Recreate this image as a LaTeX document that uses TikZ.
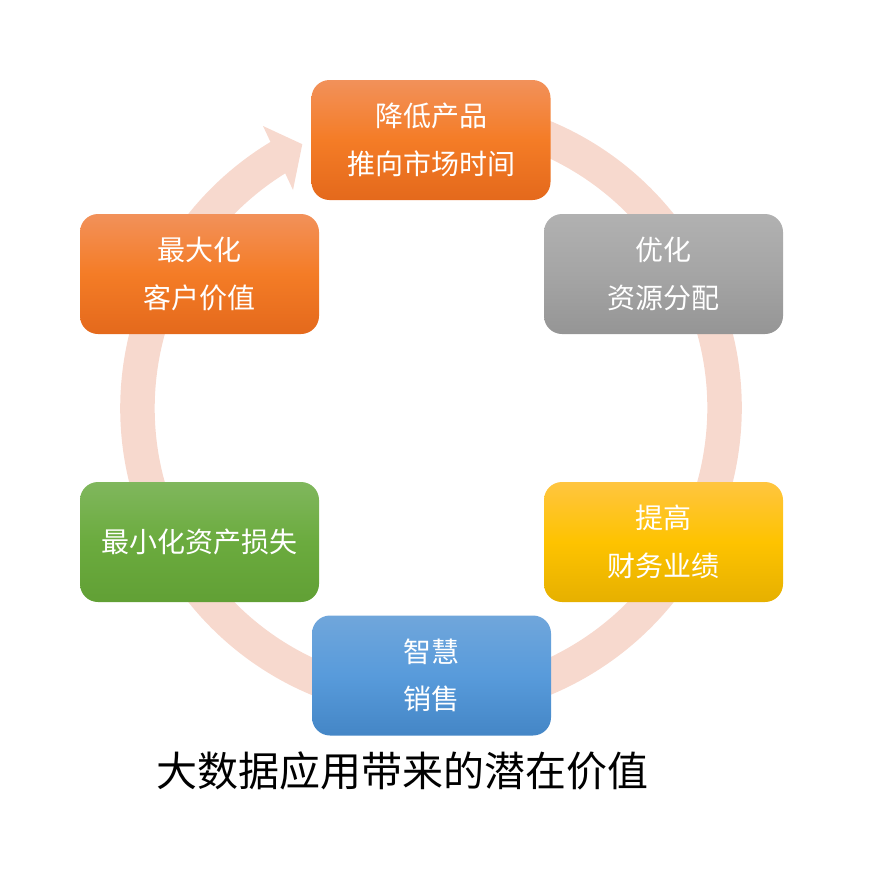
\documentclass[tikz,border=0pt]{standalone}
\usepackage{fontspec}
\setmainfont{Noto Sans CJK SC}
\definecolor{ringc}{HTML}{F7D9CE}
\definecolor{oT}{HTML}{F2915A}
\definecolor{oM}{HTML}{F47C26}
\definecolor{oB}{HTML}{E4691C}
\definecolor{gT}{HTML}{B1B1B1}
\definecolor{gM}{HTML}{A5A5A5}
\definecolor{gB}{HTML}{959595}
\definecolor{yT}{HTML}{FFC540}
\definecolor{yM}{HTML}{FEC300}
\definecolor{yB}{HTML}{E6B000}
\definecolor{bT}{HTML}{70A6DB}
\definecolor{bM}{HTML}{589BDB}
\definecolor{bB}{HTML}{4486C6}
\definecolor{grT}{HTML}{80B75D}
\definecolor{grM}{HTML}{6BAB3E}
\definecolor{grB}{HTML}{61A035}
\begin{document}
\begin{tikzpicture}[x=1pt,y=-1pt,
  box/.style={rounded corners=18pt, minimum width=239pt, minimum height=120pt,
    inner sep=0pt, text=white, align=center, font=\fontsize{28}{47.5}\selectfont},
  orangebox/.style={box, top color=oT, bottom color=oB, middle color=oM},
  greybox/.style={box, top color=gT, bottom color=gB, middle color=gM},
  yellowbox/.style={box, top color=yT, bottom color=yB, middle color=yM},
  bluebox/.style={box, top color=bT, bottom color=bB, middle color=bM},
  greenbox/.style={box, top color=grT, bottom color=grB, middle color=grM},
  ringline/.style={draw=ringc, line width=34.5pt},
  titletext/.style={text=black, font=\fontsize{41}{41}\selectfont}]
\useasboundingbox (0,0) rectangle (868,873);
\coordinate (c) at (431,408);
% ring with arrowhead
\draw[ringline] (481.97,118.96) arc[start angle=-80, end angle=239, radius=293.5];
\fill[ringc] (263,126) -- (302.3,144.2) -- (293,190) -- cycle;
% boxes
\node[orangebox] (reduce) at (431,140) {降低产品\\推向市场时间};
\node[greybox] (optimize) at (663.5,274) {优化\\资源分配};
\node[yellowbox] (improve) at (663.5,542) {提高\\财务业绩};
\node[bluebox] (smart) at (431.5,675.5) {智慧\\销售};
\node[greenbox] (minimize) at (199.5,542) {最小化资产损失};
\node[orangebox] (maximize) at (199.5,274) {最大化\\客户价值};
% title
\node[titletext] (title) at (402,771) {大数据应用带来的潜在价值};
\end{tikzpicture}
\end{document}
